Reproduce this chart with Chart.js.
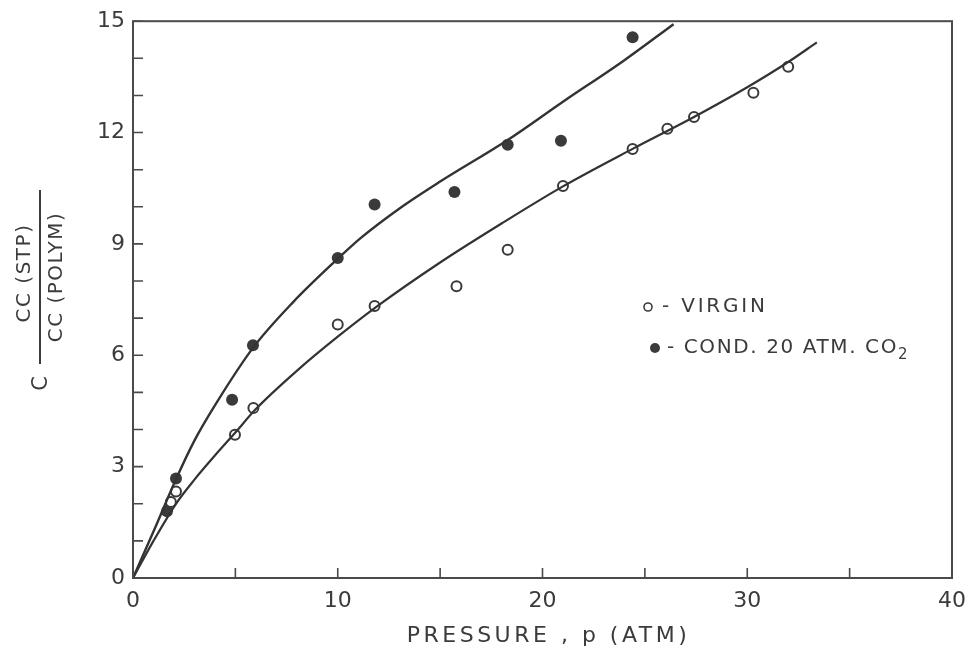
<!DOCTYPE html>
<html>
<head>
<meta charset="utf-8">
<script src="https://cdn.jsdelivr.net/npm/chart.js@4/dist/chart.umd.min.js"></script>
<style>
  html, body { margin: 0; padding: 0; background: #fff; }
  #wrap { width: 976px; height: 657px; }
</style>
</head>
<body>
<div id="wrap"><canvas id="c" width="976" height="657"></canvas></div>
<script>
// Measured CO2 sorption (cc(STP)/cc(polymer)) vs pressure (atm)
const pressureVirgin = [1.85, 2.1, 4.98, 5.88, 10.0, 11.8, 15.8, 18.3, 21.0, 24.4, 26.1, 27.4, 30.3, 32.0];
const uptakeVirgin   = [2.05, 2.33, 3.86, 4.58, 6.83, 7.33, 7.86, 8.84, 10.56, 11.56, 12.1, 12.42, 13.07, 13.77];

const pressureCond = [1.66, 2.1, 4.84, 5.86, 10.0, 11.8, 15.7, 18.3, 20.9, 24.4];
const uptakeCond   = [1.8, 2.68, 4.8, 6.27, 8.62, 10.06, 10.4, 11.67, 11.78, 14.57];

// Hand-drawn smooth fits through each set
const fitVirginP = [0, 1, 2.1, 3, 4, 5, 6, 8, 10, 12, 15, 18, 21, 24.4, 27.4, 30, 32, 33.4];
const fitVirginC = [0, 1.0, 2.0, 2.65, 3.3, 3.92, 4.55, 5.58, 6.5, 7.35, 8.5, 9.55, 10.55, 11.56, 12.42, 13.22, 13.9, 14.43];

const fitCondP = [0, 1, 2.1, 3, 4, 5.86, 7.8, 10, 11.1, 13, 15, 18.3, 21, 24, 26.4];
const fitCondC = [0, 1.25, 2.66, 3.7, 4.65, 6.2, 7.42, 8.6, 9.15, 9.95, 10.68, 11.8, 12.83, 13.95, 14.92];

// Axis ticks
const xLabelTicks = [0, 10, 20, 30, 40];
const xMinorStep = 5;
const yLabelTicks = [0, 3, 6, 9, 12, 15];
const yMinorStep = 1;

const INK = '#3b3b3b';
const FONT = '"DejaVu Sans", sans-serif';

const zip = (xs, ys) => xs.map((x, i) => ({ x: x, y: ys[i] }));

// Frame, inward tick marks, axis titles and key
const decor = {
  id: 'decor',
  afterDraw(chart) {
    const ctx = chart.ctx;
    const a = chart.chartArea;
    const xs = chart.scales.x, ys = chart.scales.y;
    ctx.save();
    ctx.strokeStyle = '#4a4a4a';
    ctx.lineWidth = 2;
    ctx.strokeRect(a.left, a.top, a.right - a.left, a.bottom - a.top);

    ctx.lineWidth = 1.6;
    ctx.beginPath();
    for (let v = xs.min; v <= xs.max + 1e-9; v += xMinorStep) {
      const px = xs.getPixelForValue(v);
      ctx.moveTo(px, a.bottom);
      ctx.lineTo(px, a.bottom - 10);
    }
    for (let v = ys.min; v <= ys.max + 1e-9; v += yMinorStep) {
      const py = ys.getPixelForValue(v);
      ctx.moveTo(a.left, py);
      ctx.lineTo(a.left + 10, py);
    }
    ctx.stroke();

    // x title
    ctx.fillStyle = INK;
    ctx.font = '22px ' + FONT;
    ctx.letterSpacing = '3.5px';
    ctx.textAlign = 'center';
    ctx.textBaseline = 'middle';
    ctx.fillText('PRESSURE , p (ATM)', (a.left + a.right) / 2 + 6, 636);

    // y title: C  CC(STP) / CC(POLYM)
    ctx.save();
    ctx.translate(42, 383);
    ctx.rotate(-Math.PI / 2);
    ctx.letterSpacing = '1px';
    ctx.font = '21px ' + FONT;
    ctx.fillText('C', 0, 0);
    ctx.restore();

    ctx.save();
    ctx.translate(40, 277);
    ctx.rotate(-Math.PI / 2);
    ctx.font = '20px ' + FONT;
    ctx.letterSpacing = '1.5px';
    ctx.fillText('CC (STP)', 4, -15);
    ctx.fillText('CC (POLYM)', 0, 17);
    ctx.lineWidth = 2;
    ctx.strokeStyle = INK;
    ctx.beginPath();
    ctx.moveTo(-87, 0);
    ctx.lineTo(87, 0);
    ctx.stroke();
    ctx.restore();

    // key
    ctx.font = '20px ' + FONT;
    ctx.textAlign = 'left';
    ctx.lineWidth = 1.6;
    ctx.strokeStyle = INK;
    ctx.beginPath();
    ctx.arc(648, 307, 4, 0, Math.PI * 2);
    ctx.stroke();
    ctx.letterSpacing = '2.8px';
    ctx.fillText('- VIRGIN', 662, 307);

    ctx.beginPath();
    ctx.arc(655, 348, 5, 0, Math.PI * 2);
    ctx.fill();
    ctx.letterSpacing = '1.6px';
    const t1 = '- COND. 20 ATM. CO';
    ctx.fillText(t1, 667, 348);
    const w1 = ctx.measureText(t1).width;
    ctx.font = '15px ' + FONT;
    ctx.fillText('2', 667 + w1, 355);
    ctx.restore();
  }
};

new Chart(document.getElementById('c'), {
  type: 'scatter',
  data: {
    datasets: [
      {
        label: 'fit cond',
        data: zip(fitCondP, fitCondC),
        showLine: true,
        borderColor: '#333',
        borderWidth: 2.4,
        pointRadius: 0,
        cubicInterpolationMode: 'monotone',
        fill: false
      },
      {
        label: 'fit virgin',
        data: zip(fitVirginP, fitVirginC),
        showLine: true,
        borderColor: '#333',
        borderWidth: 2.2,
        pointRadius: 0,
        cubicInterpolationMode: 'monotone',
        fill: false
      },
      {
        label: 'VIRGIN',
        data: zip(pressureVirgin, uptakeVirgin),
        pointRadius: 5,
        pointBorderWidth: 2,
        pointBorderColor: '#3a3a3a',
        pointBackgroundColor: '#ffffff'
      },
      {
        label: 'COND. 20 ATM. CO2',
        data: zip(pressureCond, uptakeCond),
        pointRadius: 6,
        pointBorderWidth: 0,
        pointBorderColor: '#3a3a3a',
        pointBackgroundColor: '#3a3a3a'
      }
    ]
  },
  options: {
    responsive: false,
    animation: false,
    layout: { padding: { left: 0, top: 19, right: 24, bottom: 0 } },
    plugins: { legend: { display: false }, tooltip: { enabled: false } },
    scales: {
      x: {
        type: 'linear',
        min: 0, max: 40,
        afterBuildTicks: s => { s.ticks = xLabelTicks.map(v => ({ value: v })); },
        afterFit: s => { s.height = 79; },
        grid: { display: false, drawTicks: false },
        border: { display: false },
        ticks: { color: INK, font: { family: FONT, size: 22 }, padding: 10, maxRotation: 0 }
      },
      y: {
        type: 'linear',
        min: 0, max: 15,
        afterBuildTicks: s => { s.ticks = yLabelTicks.map(v => ({ value: v })); },
        afterFit: s => { s.width = 133; },
        grid: { display: false, drawTicks: false },
        border: { display: false },
        ticks: { color: INK, font: { family: FONT, size: 22 }, padding: 8 }
      }
    }
  },
  plugins: [decor]
});
</script>
</body>
</html>
